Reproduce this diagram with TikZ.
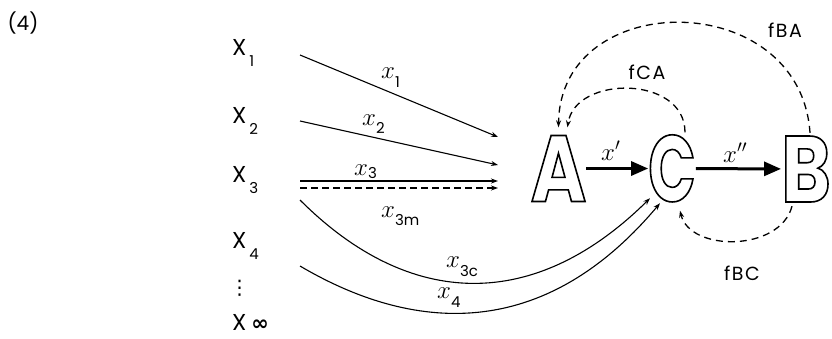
\documentclass[tikz,border=0pt]{standalone}
\usepackage{fontspec}
\setmainfont{Poppins}
\newfontfamily\letterfont[FakeStretch=0.8]{Poppins}
\newfontfamily\letterfontC[FakeStretch=0.66]{Poppins}
\newfontfamily\flfont[LetterSpace=8]{Poppins}
\newfontfamily\symfont{DejaVu Sans}
\usetikzlibrary{arrows.meta,calc}
\newcommand\outl[1]{\special{pdf:literal direct 1 Tr 1.6 w}#1\special{pdf:literal direct 0 Tr}}
\newcommand\subx[2]{\raisebox{#1}{\fontsize{15}{15}\selectfont #2}}
\begin{document}
\begin{tikzpicture}[x=1pt,y=-1pt,
  xl/.style={inner sep=0pt, anchor=base west, font=\fontsize{23}{23}\selectfont},
  vl/.style={inner sep=0pt, anchor=base west, font=\fontsize{27}{27}\selectfont},
  fl/.style={inner sep=0pt, font=\flfont\fontsize{19}{19}\selectfont},
  letter/.style={inner sep=0pt, text height=66pt, text depth=0pt},
  flow/.style={line width=1.1pt, -{Stealth[length=7pt,width=5pt]}},
  fb/.style={line width=1.3pt, dash pattern=on 7pt off 5pt, -{Stealth[length=7pt,width=5pt]}},
  mainarrow/.style={line width=3pt, -{Triangle[length=17pt,width=14pt]}}]
\useasboundingbox (0,0) rectangle (832,338);

% label (4)
\node[inner sep=0pt, font=\fontsize{20}{20}\selectfont] (num) at (23,23) {(4)};

% sources
\node[xl] (X1) at (232,55) {X\hspace{3pt}\subx{-11pt}{1}};
\node[xl] (X2) at (232,123) {X\hspace{3pt}\subx{-11pt}{2}};
\node[xl] (X3) at (232,182) {X\hspace{3pt}\subx{-11pt}{3}};
\node[xl] (X4) at (232,248) {X\hspace{3pt}\subx{-11pt}{4}};
\node[inner sep=0pt, font=\symfont\fontsize{20}{20}\selectfont] (dots) at (239.5,288) {⋮};
\node[xl] (Xinf) at (232,330) {X\hspace{5pt}{\symfont\bfseries\fontsize{21}{21}\selectfont ∞}};

% big outlined letters
\node[letter, font=\letterfont\bfseries\fontsize{94}{94}\selectfont] (A) at (558.5,168.5) {\outl{A}};
\node[letter, font=\letterfontC\bfseries\fontsize{94}{94}\selectfont] (C) at (672,168.5) {\outl{C}};
\node[letter, font=\letterfont\bfseries\fontsize{94}{94}\selectfont] (B) at (806,169) {\outl{B}};

% free ends of the input flows
\coordinate (s1) at (300,55);   \coordinate (e1) at (498,137);
\coordinate (s2) at (300,121);  \coordinate (e2) at (498,165);
\coordinate (s3) at (300,181);  \coordinate (e3) at (498,181);
\coordinate (s3m) at (300,188); \coordinate (e3m) at (498,188);
\coordinate (s3c) at (300,200);
\coordinate (s4) at (300,266);

\draw[flow] (s1) -- (e1);
\draw[flow] (s2) -- (e2);
\draw[flow] (s3) -- (e3);
\draw[flow, dash pattern=on 7pt off 4pt] (s3m) -- (e3m);
\draw[flow] (s3c) .. controls (410,310) and (535,312) .. ($(C.south)+(-22,-3.5)$);
\draw[flow] (s4) .. controls (400,325) and (535,352) .. ($(C.south)+(-12,1.5)$);

% flow labels
\node[vl] (l1) at (381,78) {$x$\subx{-9pt}{1}};
\node[vl] (l2) at (362,125) {$x$\subx{-8pt}{2}};
\node[vl] (l3) at (354,175) {$x$\subx{-3pt}{3}};
\node[vl] (l3m) at (381,217) {$x$\subx{-8pt}{3m}};
\node[vl] (l3c) at (446,267) {$x$\subx{-9pt}{3c}};
\node[vl] (l4) at (437,298) {$x$\subx{-9pt}{4}};

% main chain
\draw[mainarrow] (A) -- (C);
\draw[mainarrow] (C) -- (B);
\node[vl] (xp) at (601,160) {$x'$};
\node[vl] (xpp) at (723,162) {$x''$};

% feedbacks
\draw[fb] ($(C.north)+(13,-3)$) .. controls (685,75) and (575,75) .. ($(A.north)+(9,-8)$);
\draw[fb] ($(B.north)+(4,-3)$) .. controls (800,-13) and (560,-13) .. ($(A.north)+(0,-8)$);
\draw[fb] ($(B.south)+(-14,4)$) .. controls (780,252) and (690,252) .. ($(C.south)+(8,9)$);
\node[fl] (fCA) at (647,72) {fCA};
\node[fl] (fBA) at (785,30) {fBA};
\node[fl] (fBC) at (742,273) {fBC};
\end{tikzpicture}
\end{document}
